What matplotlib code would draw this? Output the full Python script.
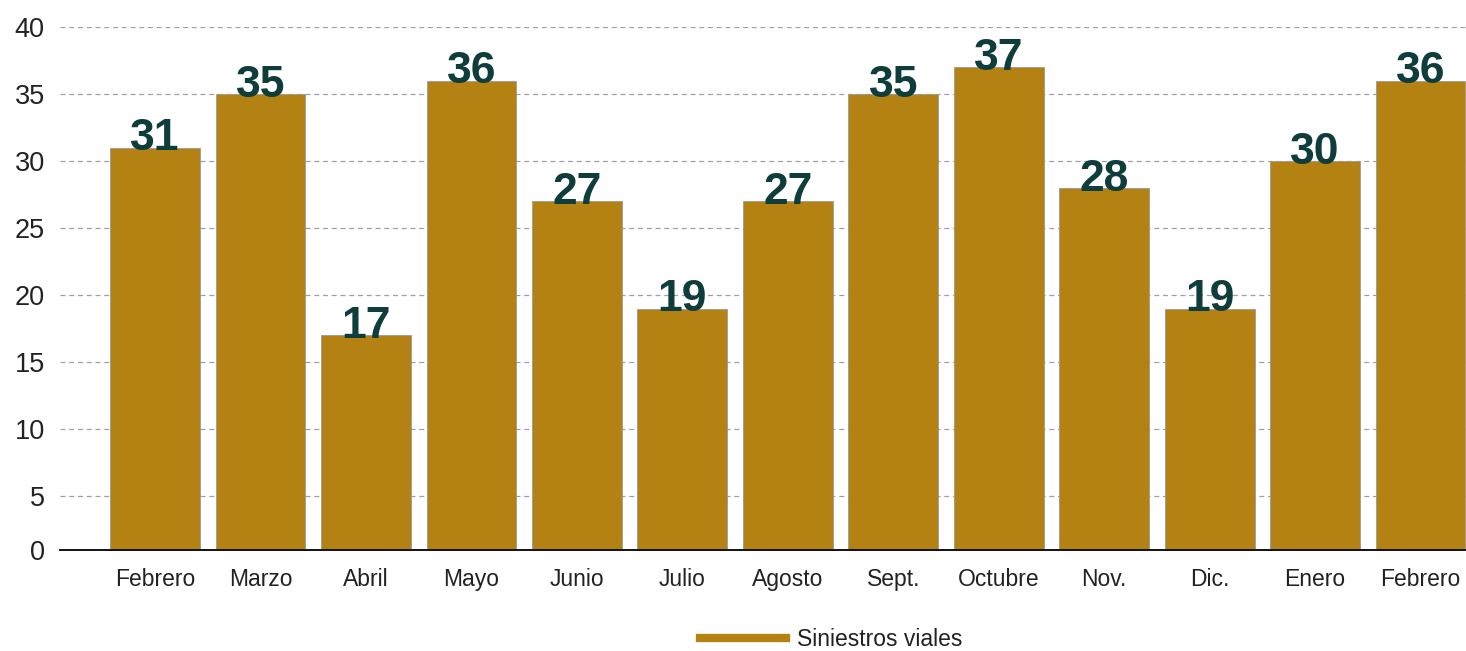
import matplotlib.pyplot as plt
from matplotlib.lines import Line2D

plt.rcParams['font.family'] = ['Liberation Sans', 'DejaVu Sans']

meses = ["Febrero", "Marzo", "Abril", "Mayo", "Junio", "Julio", "Agosto",
         "Sept.", "Octubre", "Nov.", "Dic.", "Enero", "Febrero"]
siniestros = [31, 35, 17, 36, 27, 19, 27, 35, 37, 28, 19, 30, 36]
y_ticks = [1, 5, 10, 15, 20, 25, 30, 35, 40]
y_labels = ["0", "5", "10", "15", "20", "25", "30", "35", "40"]

color_bar = '#B38213'
color_txt = '#0E3D3B'

fig = plt.figure(figsize=(14.66, 6.51), dpi=100)
ax = fig.add_axes([60/1466, 1 - 550/651, 1 - 60/1466, (550 - 27)/651])

x = range(len(meses))
ax.bar(x, siniestros, width=0.85, color=color_bar, edgecolor='#9a9a9a',
       linewidth=0.6, zorder=3)

for i, v in enumerate(siniestros):
    ax.text(i, v - 0.2, str(v), ha='center', va='baseline', fontsize=32,
            fontweight='bold', color=color_txt, zorder=4)

ax.set_xlim(-0.9, 12.43)
ax.set_ylim(1, 40)
ax.set_yticks(y_ticks)
ax.set_yticklabels(y_labels)
ax.set_xticks(list(x))
ax.set_xticklabels(meses)

ax.yaxis.grid(True, linestyle=(0, (4, 3)), color='#a0a0a0', linewidth=0.9, zorder=0)
ax.tick_params(axis='y', length=0, pad=11, labelsize=19.5, labelcolor='#222222')
ax.tick_params(axis='x', length=0, pad=13, labelsize=16.5, labelcolor='#222222')

for s in ['top', 'right', 'left']:
    ax.spines[s].set_visible(False)
ax.spines['bottom'].set_color('#111111')
ax.spines['bottom'].set_linewidth(1.4)
ax.spines['bottom'].set_zorder(5)

handle = Line2D([], [], color=color_bar, linewidth=6)
fig.legend(handles=[handle], labels=["Siniestros viales"], loc='center',
           bbox_to_anchor=(831/1466, 1 - 640/651), frameon=False,
           fontsize=16.5, handlelength=3.75, handletextpad=0.5,
           labelcolor='#222222')

fig.savefig('out.png', dpi=100)
